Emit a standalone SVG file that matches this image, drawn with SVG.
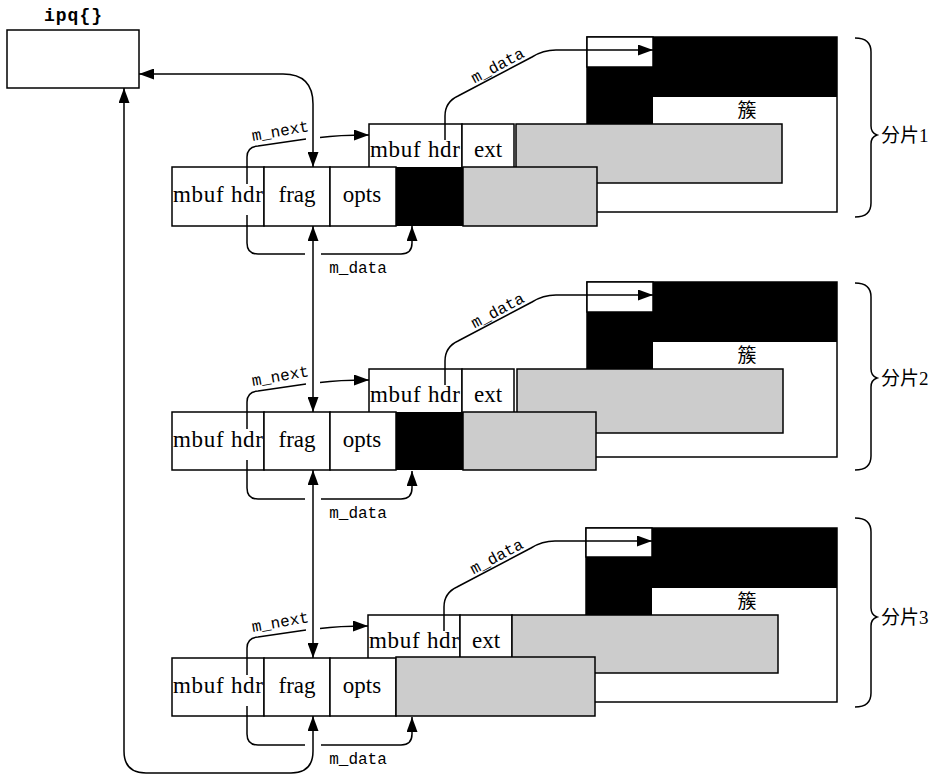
<svg xmlns="http://www.w3.org/2000/svg" width="943" height="776" viewBox="0 0 943 776">
<defs>
<style>
.box{fill:#fff;stroke:#000;stroke-width:1.5}
.gray{fill:#ccc;stroke:#000;stroke-width:1.5}
.blk{fill:#000}
.ln{fill:none;stroke:#000;stroke-width:1.5}
.ser{font-family:"Liberation Serif",serif;font-size:23px;fill:#000}
.mono{font-family:"Liberation Mono",monospace;font-size:16px;fill:#000}
.cjk{font-family:"Noto Sans CJK SC",sans-serif;font-size:19px;fill:#000}
.lbl{font-family:"Liberation Serif","Noto Sans CJK SC",serif;font-size:19px;fill:#000}
</style>
<marker id="ah" markerUnits="userSpaceOnUse" markerWidth="15" markerHeight="11" refX="15" refY="5.5" orient="auto-start-reverse" viewBox="0 0 15 11">
<path d="M0,0 L15,5.5 L0,11 z" fill="#000"/>
</marker>
</defs>
<rect width="943" height="776" fill="#fff"/>

<g id="ipq">
<rect x="7" y="30" width="132" height="58" class="box"/>
<text x="73" y="21" text-anchor="middle" font-family="Liberation Mono,monospace" font-weight="bold" font-size="18" textLength="58">ipq{}</text>
</g>

<!-- Fragment 1 -->
<g id="frag1">
<g id="frag1-cluster">
<rect x="587" y="37" width="250" height="175" class="box"/>
<rect x="587" y="37" width="250" height="60" class="blk"/>
<rect x="587" y="96" width="66" height="32" class="blk"/>
<rect x="587" y="37" width="66" height="30" class="box" stroke-width="1.2"/>
<text x="747" y="117" text-anchor="middle" class="cjk">簇</text>
</g>
<g id="frag1-ext-mbuf">
<rect x="369" y="124" width="93" height="45" class="box"/>
<rect x="462" y="124" width="52" height="45" class="box"/>
<rect x="516" y="124" width="266" height="59" class="gray"/>
<text x="370" y="157" class="ser" textLength="90" lengthAdjust="spacing">mbuf hdr</text>
<text x="488" y="157" text-anchor="middle" class="ser">ext</text>
</g>
<g id="frag1-mbuf">
<rect x="172" y="167" width="92" height="59" class="box"/>
<rect x="264" y="167" width="66" height="59" class="box"/>
<rect x="330" y="167" width="66" height="59" class="box"/>
<rect x="396" y="167" width="67" height="59" class="blk"/>
<rect x="463" y="167" width="134" height="59" class="gray"/>
<text x="173" y="202" class="ser" textLength="90" lengthAdjust="spacing">mbuf hdr</text>
<text x="297" y="202" text-anchor="middle" class="ser">frag</text>
<text x="362" y="202" text-anchor="middle" class="ser">opts</text>
</g>
<g id="frag1-brace">
<path class="ln" d="M855,38 Q871,38 871,52 V126 Q871,133 877,135 Q871,137 871,144 V203 Q871,217 855,217"/>
<text x="881" y="142" class="lbl">分片1</text>
</g>
</g>

<!-- Fragment 2 -->
<g id="frag2">
<g id="frag2-cluster">
<rect x="587" y="282" width="250" height="175" class="box"/>
<rect x="587" y="282" width="250" height="60" class="blk"/>
<rect x="587" y="341" width="66" height="32" class="blk"/>
<rect x="587" y="282" width="66" height="30" class="box" stroke-width="1.2"/>
<text x="747" y="362" text-anchor="middle" class="cjk">簇</text>
</g>
<g id="frag2-ext-mbuf">
<rect x="369" y="369" width="93" height="45" class="box"/>
<rect x="462" y="369" width="52" height="45" class="box"/>
<rect x="517" y="369" width="266" height="64" class="gray"/>
<text x="370" y="402" class="ser" textLength="90" lengthAdjust="spacing">mbuf hdr</text>
<text x="488" y="402" text-anchor="middle" class="ser">ext</text>
</g>
<g id="frag2-mbuf">
<rect x="172" y="412" width="92" height="58" class="box"/>
<rect x="264" y="412" width="66" height="58" class="box"/>
<rect x="330" y="412" width="66" height="58" class="box"/>
<rect x="396" y="412" width="67" height="58" class="blk"/>
<rect x="463" y="412" width="133" height="58" class="gray"/>
<text x="173" y="447" class="ser" textLength="90" lengthAdjust="spacing">mbuf hdr</text>
<text x="297" y="447" text-anchor="middle" class="ser">frag</text>
<text x="362" y="447" text-anchor="middle" class="ser">opts</text>
</g>
<g id="frag2-brace">
<path class="ln" d="M855,283 Q871,283 871,297 V369 Q871,376 877,378 Q871,380 871,387 V456 Q871,470 855,470"/>
<text x="881" y="385" class="lbl">分片2</text>
</g>
</g>

<!-- Fragment 3 -->
<g id="frag3">
<g id="frag3-cluster">
<rect x="586" y="528" width="251" height="174" class="box"/>
<rect x="586" y="528" width="251" height="60" class="blk"/>
<rect x="586" y="587" width="66" height="32" class="blk"/>
<rect x="586" y="528" width="66" height="29" class="box" stroke-width="1.2"/>
<text x="747" y="608" text-anchor="middle" class="cjk">簇</text>
</g>
<g id="frag3-ext-mbuf">
<rect x="368" y="615" width="92" height="45" class="box"/>
<rect x="460" y="615" width="52" height="45" class="box"/>
<rect x="512" y="615" width="266" height="58" class="gray"/>
<text x="369" y="648" class="ser" textLength="90" lengthAdjust="spacing">mbuf hdr</text>
<text x="486" y="648" text-anchor="middle" class="ser">ext</text>
</g>
<g id="frag3-mbuf">
<rect x="172" y="658" width="92" height="58" class="box"/>
<rect x="264" y="658" width="66" height="58" class="box"/>
<rect x="330" y="658" width="66" height="58" class="box"/>
<rect x="396" y="657" width="199" height="59" class="gray"/>
<text x="173" y="693" class="ser" textLength="90" lengthAdjust="spacing">mbuf hdr</text>
<text x="297" y="693" text-anchor="middle" class="ser">frag</text>
<text x="362" y="693" text-anchor="middle" class="ser">opts</text>
</g>
<g id="frag3-brace">
<path class="ln" d="M855,518 Q871,518 871,532 V608 Q871,615 877,617 Q871,619 871,626 V693 Q871,707 855,707"/>
<text x="881" y="624" class="lbl">分片3</text>
</g>
</g>

<g id="connectors">
<path class="ln" marker-start="url(#ah)" marker-end="url(#ah)" d="M139,74 H283 Q313,74 313,104 V167"/>
<path class="ln" marker-start="url(#ah)" marker-end="url(#ah)" d="M313,226 V412"/>
<path class="ln" marker-start="url(#ah)" marker-end="url(#ah)" d="M313,470 V658"/>
<path class="ln" marker-start="url(#ah)" marker-end="url(#ah)" d="M313,716 V751 Q313,773 291,773 H146 Q124,773 124,751 V88"/>

<path class="ln" d="M247,184 V157 Q247,147 258,146 L306,139"/>
<path class="ln" marker-end="url(#ah)" d="M320,137.5 Q338,135 369,135"/>
<text class="mono" transform="translate(281,136) rotate(-10)" text-anchor="middle">m_next</text>
<path class="ln" d="M247,215 V243 Q247,254 258,254 H305"/>
<path class="ln" marker-end="url(#ah)" d="M321,254 H401 Q412,254 412,243 V226"/>
<text class="mono" x="358" y="273" text-anchor="middle">m_data</text>
<path class="ln" marker-end="url(#ah)" d="M445,140 V116 Q445,102 458,96 L532,57 Q543,50 556,50 H653"/>
<text class="mono" transform="translate(500,70) rotate(-28)" text-anchor="middle">m_data</text>

<path class="ln" d="M247,429 V402 Q247,392 258,391 L306,384"/>
<path class="ln" marker-end="url(#ah)" d="M320,382.5 Q338,380 369,380"/>
<text class="mono" transform="translate(281,381) rotate(-10)" text-anchor="middle">m_next</text>
<path class="ln" d="M247,460 V488 Q247,499 258,499 H305"/>
<path class="ln" marker-end="url(#ah)" d="M321,499 H401 Q412,499 412,488 V471"/>
<text class="mono" x="358" y="518" text-anchor="middle">m_data</text>
<path class="ln" marker-end="url(#ah)" d="M445,385 V361 Q445,347 458,341 L532,302 Q543,295 556,295 H653"/>
<text class="mono" transform="translate(500,315) rotate(-28)" text-anchor="middle">m_data</text>

<path class="ln" d="M247,675 V648 Q247,638 258,637 L306,630"/>
<path class="ln" marker-end="url(#ah)" d="M320,628.5 Q338,626 368,626"/>
<text class="mono" transform="translate(281,627) rotate(-10)" text-anchor="middle">m_next</text>
<path class="ln" d="M247,706 V734 Q247,745 258,745 H305"/>
<path class="ln" marker-end="url(#ah)" d="M321,745 H401 Q412,745 412,734 V717"/>
<text class="mono" x="358" y="764" text-anchor="middle">m_data</text>
<path class="ln" marker-end="url(#ah)" d="M444,631 V607 Q444,593 457,587 L531,548 Q542,541 555,541 H652"/>
<text class="mono" transform="translate(499,561) rotate(-28)" text-anchor="middle">m_data</text>
</g>
</svg>
